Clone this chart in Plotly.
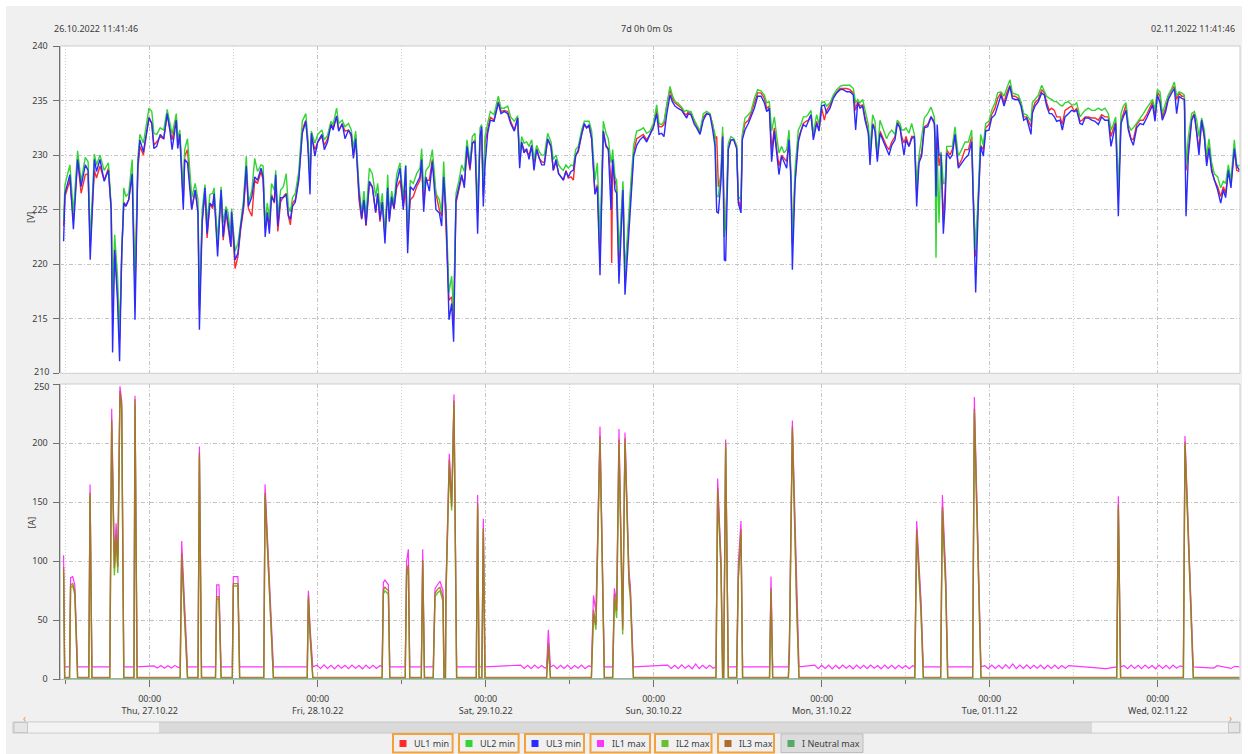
import pandas as pd
import plotly.graph_objects as go

# ---------------- DATA ----------------
# time in hours since 26.10.2022 00:00
t_U = [11.7, 11.9, 12.6, 13.1, 13.7, 14.2, 14.8, 15.2, 15.5, 16.1, 16.4, 16.9, 17.5, 18.1, 18.5, 18.7, 19.0, 19.4, 19.7, 20.0,
       20.3, 20.6, 21.0, 21.5, 21.9, 22.3, 22.6, 23.1, 23.9, 24.3, 24.6, 25.0, 25.5, 26.0, 26.5, 26.9, 27.2, 27.8, 28.0, 28.3,
       28.8, 29.0, 29.4, 29.8, 30.0, 30.5, 30.9, 31.1, 31.5, 31.9, 32.2, 32.6, 33.0, 33.2, 33.7, 34.2, 34.5, 34.9, 35.2, 35.6,
       35.7, 36.2, 36.6, 37.0, 37.4, 37.8, 38.1, 38.6, 39.0, 39.4, 39.9, 40.2, 40.5, 40.8, 41.1, 41.4, 41.8, 42.0, 42.3, 42.7,
       43.1, 43.5, 43.8, 44.1, 44.4, 44.8, 45.3, 45.8, 46.3, 46.6, 46.9, 47.1, 47.6, 48.0, 48.6, 48.95, 49.4, 49.9, 50.2, 50.7,
       51.0, 51.5, 51.9, 52.4, 52.8, 53.1,
       53.42, 53.9, 54.28, 54.61, 54.9, 55.38, 55.8, 56.28, 56.57, 56.9, 57.23, 57.61, 58.0, 58.23, 58.57, 58.9, 59.28, 59.76,
       60.23, 60.57, 60.85, 61.23, 61.66, 62.14, 62.61, 62.85, 63.14, 63.47, 63.95, 64.38, 64.66, 64.9, 65.38, 65.71, 66.0,
       66.33, 66.76, 67.14, 67.42, 67.76, 68.19, 68.57, 68.95, 69.33, 69.76, 70.09, 70.47, 70.85, 71.19, 71.42, 71.66, 71.9,
       72.28, 72.66, 73.19, 73.57, 73.8, 74.19, 74.66, 75.14, 75.57, 76.09, 76.57, 76.85, 77.14, 77.47, 77.85, 78.19, 78.57,
       78.9, 79.28, 79.66, 80.0, 80.38, 80.85, 81.33, 81.66, 82.04, 82.42, 82.76, 83.09, 83.47, 83.8, 84.19, 84.52, 84.85,
       85.23, 85.71, 86.09, 86.42, 86.76, 87.14, 87.61, 87.95, 88.33, 88.8, 89.19, 89.52, 89.9, 90.0, 90.14, 90.47, 90.71,
       91.04, 91.33, 91.61, 91.9, 92.28, 92.76, 93.14, 93.57, 94.04, 94.52,
       95.0, 95.47, 95.95, 96.43, 96.76, 97.14, 97.47, 97.85, 98.33, 98.66, 99.04, 99.43, 100.0, 100.38, 100.71, 100.95,
       101.33, 101.81, 102.14, 102.62, 103.09, 103.57, 104.04, 104.43, 104.76, 105.0, 105.24, 105.62, 105.85, 106.09, 106.28,
       106.66, 107.04, 107.43, 107.85, 108.09, 108.47, 108.66, 109.04, 109.52, 109.9, 110.38, 110.85, 111.33, 111.81, 112.14,
       112.52, 112.85, 113.24, 113.57, 113.9, 114.28, 114.62, 115.0, 115.33, 115.62, 115.81, 116.19, 116.66, 117.04, 117.38,
       117.76, 118.09, 118.47, 118.81, 119.28, 119.62, 120.0, 120.38, 120.71, 121.19, 121.66, 122.14, 122.62, 123.09, 123.57,
       124.04, 124.52, 124.85, 125.14, 125.47, 125.85, 126.19, 126.66, 126.9, 127.28, 127.62, 127.95, 128.33, 128.81, 129.28,
       129.62, 130.0, 130.47, 130.81, 131.19, 131.43, 131.76, 132.04, 132.47, 132.85, 133.24, 133.57, 133.9, 134.28, 134.66,
       135.14, 135.62, 136.09,
       136.19, 136.33, 136.5, 136.76, 137.05, 137.38, 137.62, 137.86, 138.33, 138.66, 139.05, 139.52, 140.0, 140.47, 140.95,
       141.43, 141.66, 142.0, 142.38, 142.71, 143.09, 143.43, 143.9, 144.28, 144.76, 145.14, 145.62, 146.05, 146.43, 146.9,
       147.24, 147.62, 148.09, 148.47, 148.86, 149.28, 149.9, 150.09, 150.47, 150.95, 151.43, 151.81, 152.14, 152.52, 152.86,
       153.24, 153.57, 154.05, 154.38, 154.76, 155.24, 155.71, 156.09, 156.43, 156.9, 157.24, 157.62, 158.09, 158.57, 159.05,
       159.52, 160.0, 160.47, 160.95, 161.33, 161.66, 162.0, 162.38, 162.76, 163.09, 163.47, 163.81, 164.19, 164.52, 165.0,
       165.47, 165.95, 166.43, 166.9, 167.28, 167.62, 167.95, 168.33, 168.66, 169.14, 169.52, 170.0, 170.38, 170.71, 171.05,
       171.43, 171.81, 172.05, 172.38, 172.86, 173.24, 173.57, 173.9, 174.28, 174.66, 175.0, 175.33, 175.71, 176.09, 176.57,
       177.0, 177.38, 177.71, 178.09, 178.47, 178.95, 179.28, 179.7]

UL3_min = [222.1, 226.5, 228.2, 223.2, 229.6, 227.1, 229.1, 228.6, 220.4, 229.6, 228.5, 229.6, 227.6, 228.6, 225.0, 211.9, 221.3, 216.7, 211.1, 221.0,
           225.6, 225.3, 225.9, 228.3, 214.9, 229.0, 231.4, 230.3, 233.4, 232.9, 230.6, 230.8, 231.9, 231.5, 233.8, 232.2, 230.5, 233.2, 230.6, 231.9,
           225.0, 229.6, 229.3, 226.8, 225.0, 226.8, 224.7, 214.0, 223.8, 227.0, 222.8, 225.6, 225.3, 226.5, 220.7, 226.8, 222.5, 225.0, 223.8, 221.6,
           224.8, 220.4, 221.0, 223.5, 225.3, 229.0, 225.3, 226.2, 228.0, 227.7, 228.8, 228.0, 222.5, 224.7, 222.8, 226.2, 225.7, 228.2, 223.5, 226.1,
           226.1, 226.4, 224.5, 224.1, 225.3, 225.7, 227.7, 232.0, 233.1, 230.8, 226.4, 232.0, 229.9, 231.2, 231.9, 230.5, 231.2, 232.8, 232.3, 233.6,
           232.2, 232.9, 231.5, 232.3, 231.9, 229.7,
           231.5, 226.5, 224.2, 225.9, 223.6, 227.6, 227.1, 224.8, 226.5, 224.1, 225.7, 221.9, 227.0, 223.9, 226.2, 225.1, 227.4, 228.8,
           225.0, 229.0, 221.0, 227.1, 226.8, 227.4, 228.0, 229.6, 224.8, 228.0, 226.7, 229.4, 227.1, 225.0, 224.7, 223.5, 228.0,
           224.8, 214.9, 216.4, 212.9, 225.9, 227.1, 228.2, 227.0, 230.8, 228.8, 231.1, 231.2, 222.8, 231.7, 232.6, 225.3, 229.0,
           232.0, 233.2, 233.1, 234.1, 234.8, 233.8, 234.0, 233.8, 232.9, 232.2, 233.4, 228.8, 231.2, 230.2, 230.6, 229.6, 230.9,
           228.6, 230.5, 229.7, 229.1, 229.1, 231.5, 230.8, 228.6, 229.6, 228.3, 228.0, 227.7, 228.5, 228.0, 228.5, 228.6, 229.9,
           230.5, 231.9, 232.9, 232.5, 232.8, 231.5, 226.4, 227.1, 219.0, 232.2, 230.8, 230.5, 225.0, 227.7, 229.6, 226.8, 226.5,
           218.2, 222.2, 226.8, 217.2, 221.0, 226.2, 229.9, 230.9, 231.4, 231.7,
           231.2, 231.9, 232.5, 233.8, 231.9, 232.0, 231.7, 233.7, 235.5, 234.9, 234.5, 234.3, 234.1, 233.7, 233.4, 233.8,
           233.7, 232.8, 232.5, 231.9, 233.2, 233.8, 233.7, 232.3, 230.8, 224.8, 224.7, 227.7, 231.7, 220.4, 220.3,
           230.5, 231.4, 231.4, 230.6, 225.6, 224.7, 231.4, 232.3, 232.9, 233.5, 234.3, 235.4, 235.4, 234.8, 234.0,
           234.3, 229.4, 232.2, 230.2, 228.2, 229.9, 229.3, 228.8, 231.4, 227.4, 219.5, 227.4, 231.2, 232.2, 232.8,
           232.6, 233.1, 233.7, 231.4, 232.9, 232.2, 234.5, 234.6, 233.8, 234.3, 235.2, 235.7, 236.0, 236.0, 235.8,
           235.8, 235.5, 232.3, 234.8, 234.3, 234.5, 233.2, 232.0, 229.1, 232.8, 232.2, 229.4, 232.0, 231.2, 230.6,
           230.0, 230.9, 231.4, 232.9, 232.5, 231.4, 230.0, 231.4, 230.8, 231.5, 231.7, 225.3, 229.3, 229.9, 232.5,
           232.6, 233.5, 232.9,
           231.1, 226.2, 232.8, 230.0, 230.0, 222.8, 225.3, 230.2, 229.7, 230.0, 231.9, 228.8, 229.3, 229.7, 230.0,
           231.2, 225.6, 217.4, 225.6, 230.8, 229.9, 232.2, 232.3, 233.4, 233.7, 234.6, 235.5, 234.5, 235.4, 236.3,
           235.2, 235.1, 235.1, 234.5, 233.2, 233.4, 231.9, 233.8, 234.5, 234.9, 235.7, 235.5, 234.5, 233.8, 233.8,
           233.5, 233.1, 233.2, 232.3, 233.5, 233.8, 234.1, 234.0, 234.1, 232.9, 232.8, 233.4, 233.4, 233.2, 233.1,
           232.8, 233.5, 233.2, 233.2, 230.8, 232.0, 232.9, 224.4, 232.9, 233.5, 234.1, 232.3, 231.4, 230.9, 232.5,
           232.9, 232.8, 233.4, 234.0, 234.6, 233.1, 235.5, 234.8, 233.2, 234.0, 235.1, 235.7, 236.1, 233.8, 235.4,
           235.2, 235.1, 224.4, 229.9, 233.2, 233.7, 232.0, 230.0, 233.2, 231.7, 229.0, 230.6, 228.5, 227.7, 226.8,
           225.6, 226.8, 226.1, 228.6, 227.0, 230.6, 229.0, 228.6]

UL1_min = [223.5, 226.2, 227.7, 224.1, 229.6, 226.5, 228.2, 228.3, 221.6, 228.6, 227.9, 229.0, 227.7, 228.8, 225.0, 215.5, 221.6, 217.4, 213.1, 221.0,
           225.7, 225.4, 225.9, 228.2, 217.4, 228.6, 230.8, 230.0, 233.5, 232.9, 230.9, 231.2, 231.7, 231.5, 233.7, 232.3, 231.4, 233.4, 231.1, 231.9,
           225.6, 229.9, 230.5, 227.1, 225.1, 226.8, 224.8, 215.8, 224.1, 226.5, 222.4, 225.6, 225.1, 226.4, 221.6, 226.7, 222.2, 224.7, 223.5, 221.6,
           224.7, 219.6, 220.7, 223.2, 225.0, 228.5, 225.1, 224.4, 227.7, 227.4, 228.5, 227.7, 223.3, 224.8, 223.5, 226.4, 225.6, 227.7, 223.0, 225.7,
           226.2, 226.5, 224.4, 223.6, 225.6, 225.9, 228.0, 232.3, 233.2, 231.1, 227.7, 231.7, 230.5, 231.2, 231.7, 230.9, 231.5, 232.9, 232.5, 233.5,
           232.3, 232.8, 232.2, 232.3, 231.7, 230.0,
           231.9, 225.9, 224.1, 225.7, 223.5, 227.4, 227.1, 224.7, 226.4, 223.9, 225.7, 222.8, 226.8, 224.1, 225.9, 225.1, 227.0, 227.7,
           225.3, 226.8, 222.8, 225.9, 226.2, 227.1, 227.7, 229.4, 225.6, 227.7, 227.7, 229.6, 227.7, 226.4, 225.0, 224.4, 228.3,
           222.8, 216.7, 217.0, 214.9, 225.6, 226.8, 228.0, 227.4, 230.5, 228.6, 231.1, 231.4, 224.7, 231.5, 232.3, 226.2, 231.1,
           232.3, 233.5, 233.2, 234.3, 234.9, 234.0, 234.1, 234.0, 233.1, 232.3, 233.4, 229.6, 231.1, 230.5, 230.3, 230.0, 230.9,
           229.3, 230.6, 229.7, 229.4, 229.3, 231.4, 230.8, 228.6, 229.4, 228.3, 228.0, 227.7, 228.6, 227.9, 228.0, 227.7, 230.0,
           230.3, 231.9, 232.8, 232.5, 232.6, 231.5, 226.5, 227.3, 220.4, 232.2, 230.9, 230.6, 227.7, 220.1, 229.6, 227.7, 227.1,
           219.8, 223.5, 227.1, 218.6, 222.5, 226.8, 230.3, 231.5, 231.7, 231.9,
           231.4, 231.9, 232.6, 234.1, 232.6, 232.6, 232.8, 234.5, 236.0, 235.2, 234.8, 234.6, 234.3, 233.8, 233.7, 234.0,
           233.8, 233.1, 232.6, 232.0, 233.5, 233.8, 233.7, 232.8, 231.5, 231.7, 227.1, 228.0, 232.0, 223.5, 223.2,
           230.8, 231.4, 231.4, 230.8, 225.9, 225.1, 231.7, 232.9, 233.2, 233.8, 234.8, 235.7, 235.7, 235.2, 234.3,
           234.5, 230.5, 232.5, 230.6, 229.0, 230.0, 229.7, 229.4, 231.5, 228.0, 221.9, 227.7, 231.5, 232.3, 232.9,
           233.1, 233.2, 233.7, 231.7, 233.1, 232.3, 234.3, 233.2, 234.1, 234.6, 235.4, 235.8, 236.1, 236.1, 236.1,
           236.0, 235.7, 234.1, 234.9, 234.5, 234.6, 233.5, 232.2, 229.9, 232.9, 232.5, 229.7, 232.2, 231.5, 230.8,
           230.5, 231.2, 231.7, 233.1, 232.5, 231.7, 231.1, 231.7, 230.8, 231.7, 231.7, 226.5, 229.6, 230.2, 232.6,
           232.8, 233.5, 233.1,
           231.7, 228.0, 231.7, 229.0, 230.2, 224.1, 226.5, 230.5, 230.0, 230.5, 231.9, 229.0, 229.6, 230.5, 230.5,
           231.7, 226.2, 220.7, 225.9, 230.9, 230.5, 232.5, 232.8, 233.7, 234.3, 235.2, 235.7, 234.8, 235.7, 236.4,
           235.4, 235.4, 235.2, 234.8, 233.5, 233.5, 232.6, 234.1, 234.8, 235.1, 236.0, 235.7, 234.8, 234.1, 234.3,
           234.1, 233.5, 233.5, 232.8, 234.1, 234.3, 234.5, 234.0, 234.3, 233.1, 233.2, 233.5, 233.5, 233.4, 233.4,
           233.2, 233.7, 233.5, 233.5, 231.7, 232.5, 233.1, 226.4, 233.2, 233.8, 234.6, 232.5, 231.5, 231.4, 232.8,
           233.2, 233.2, 233.7, 234.3, 234.9, 233.5, 235.8, 235.4, 233.5, 234.3, 235.4, 236.0, 236.3, 235.1, 235.7,
           235.4, 235.4, 228.6, 230.8, 233.4, 233.8, 232.3, 230.5, 233.1, 231.7, 229.3, 230.8, 228.8, 227.7, 227.1,
           226.2, 227.1, 226.5, 228.6, 227.4, 230.5, 228.6, 228.5]

UL2_min = [224.1, 227.3, 229.1, 224.7, 230.4, 227.6, 229.8, 229.4, 222.2, 230.1, 229.1, 230.0, 228.6, 229.3, 225.3, 217.0, 222.7, 218.9, 213.7, 221.6,
           227.0, 226.2, 226.5, 229.6, 218.0, 229.6, 231.9, 231.1, 234.3, 234.0, 232.0, 231.9, 232.5, 232.3, 234.2, 232.9, 231.9, 233.8, 231.5, 232.3,
           226.5, 230.5, 231.5, 228.0, 226.1, 227.4, 225.9, 216.1, 225.0, 227.3, 223.8, 226.4, 226.5, 227.0, 222.2, 227.1, 223.8, 225.3, 224.7, 222.5,
           225.1, 221.2, 221.9, 223.8, 225.9, 229.9, 225.6, 226.8, 229.7, 228.5, 229.1, 229.0, 223.8, 225.6, 224.1, 227.4, 226.8, 228.6, 224.4, 226.8,
           227.1, 228.3, 225.3, 224.8, 226.1, 226.5, 228.5, 233.1, 233.8, 231.5, 228.0, 232.2, 231.1, 231.9, 232.3, 231.4, 231.8, 233.1, 232.8, 234.3,
           232.9, 233.2, 232.6, 232.9, 232.3, 230.6,
           232.2, 227.1, 224.7, 226.7, 224.4, 228.8, 228.3, 226.2, 227.4, 225.0, 226.5, 222.5, 228.2, 224.7, 226.7, 225.6, 228.2, 229.3,
           225.9, 229.1, 222.8, 227.7, 227.4, 228.3, 228.8, 230.6, 226.8, 228.6, 229.0, 230.5, 228.3, 226.5, 225.9, 224.7, 229.4,
           225.1, 217.4, 218.9, 215.5, 226.5, 227.7, 229.1, 228.5, 231.4, 229.3, 231.7, 232.0, 225.0, 232.5, 232.8, 226.8, 231.7,
           232.9, 234.0, 233.7, 234.9, 235.4, 234.3, 234.3, 234.5, 233.5, 233.1, 233.6, 229.9, 231.7, 231.1, 231.2, 230.8, 231.4,
           229.6, 230.9, 230.3, 230.0, 230.0, 232.0, 231.2, 229.6, 230.0, 229.1, 228.8, 228.6, 229.1, 228.8, 229.1, 229.0, 230.5,
           230.8, 232.3, 233.1, 233.1, 233.1, 232.2, 227.7, 229.3, 222.2, 233.1, 232.0, 231.5, 229.3, 229.6, 230.5, 228.0, 227.7,
           221.0, 224.7, 227.6, 219.2, 223.2, 227.7, 230.9, 232.2, 232.3, 232.5,
           232.0, 232.2, 232.9, 234.6, 232.9, 232.8, 233.1, 234.6, 236.3, 235.5, 234.9, 234.8, 234.4, 234.0, 234.1, 234.0,
           234.0, 233.2, 232.8, 232.2, 233.8, 234.0, 233.8, 232.9, 231.9, 226.2, 226.2, 228.6, 232.6, 222.5, 223.8,
           231.1, 231.7, 231.5, 230.9, 226.2, 225.9, 231.9, 233.4, 233.7, 234.0, 235.2, 236.0, 235.9, 235.5, 234.8,
           234.9, 232.2, 233.5, 231.7, 230.2, 230.8, 230.2, 230.5, 232.3, 228.3, 221.9, 228.6, 232.3, 232.8, 233.5,
           233.5, 233.7, 234.1, 232.0, 233.7, 232.8, 234.8, 234.9, 234.5, 234.8, 235.5, 236.0, 236.3, 236.4, 236.4,
           236.4, 236.1, 234.8, 235.1, 234.8, 235.1, 234.1, 232.8, 230.5, 233.7, 233.1, 230.0, 233.2, 232.3, 231.5,
           232.0, 232.3, 231.9, 233.2, 232.9, 232.3, 232.3, 232.5, 232.0, 232.9, 231.9, 227.1, 229.9, 231.7, 233.4,
           233.8, 234.4, 233.5,
           231.7, 220.6, 230.5, 223.8, 230.3, 227.4, 227.4, 230.8, 230.8, 230.8, 232.6, 229.9, 230.5, 231.2, 231.2,
           232.3, 226.2, 221.3, 226.8, 231.9, 230.9, 232.9, 233.1, 234.1, 234.8, 235.7, 235.8, 235.4, 236.1, 236.9,
           235.7, 235.6, 235.5, 234.9, 233.8, 233.7, 233.1, 234.8, 235.1, 235.5, 236.4, 235.8, 235.4, 235.2, 235.1,
           234.9, 234.9, 234.6, 234.5, 234.8, 234.9, 234.6, 234.6, 234.8, 233.5, 233.8, 234.1, 234.3, 234.1, 234.1,
           234.3, 234.1, 234.3, 233.8, 232.3, 232.8, 233.5, 226.8, 233.8, 234.5, 234.8, 232.8, 232.3, 232.5, 232.9,
           233.4, 233.8, 234.3, 234.8, 235.1, 234.1, 236.0, 235.8, 233.8, 234.8, 235.5, 236.1, 236.7, 235.4, 235.8,
           235.7, 235.5, 229.0, 231.7, 233.8, 234.0, 233.2, 231.7, 233.4, 232.3, 229.9, 231.5, 229.3, 228.3, 228.0,
           227.0, 227.6, 227.4, 229.1, 227.7, 231.4, 229.1, 229.0]

t_I = [11.7, 11.85, 12.55, 12.7, 13.0, 13.3, 13.7, 15.3, 15.48, 15.75, 18.3, 18.57, 18.95, 19.2, 19.45, 19.75, 20.0, 20.3,
       21.75, 21.9, 22.2, 28.35, 28.57, 28.95, 29.4, 30.9, 31.1, 31.4, 33.4, 33.57, 33.9, 34.2, 35.8, 35.95, 36.6, 36.85,
       40.3, 40.48, 41.2, 41.67, 46.5, 46.67, 46.9, 47.3, 57.2, 57.38, 57.6, 58.1, 58.3, 60.5, 60.7, 60.95, 61.15, 62.8, 63.0,
       63.25, 64.5, 64.76, 65.1, 65.47, 65.9, 66.04, 66.25, 66.33, 66.8, 67.14, 67.47, 67.85, 70.65, 70.85, 71.05, 71.45,
       71.66, 71.9, 80.7, 80.95, 81.25, 87.1, 87.4, 87.75, 88.33, 88.95, 90.14, 90.38, 90.71, 91.04, 91.57, 91.9, 92.47,
       92.66, 93.1, 104.9, 105.14, 105.62, 105.85, 106.0, 106.28, 106.66, 107.85, 108.09, 108.47, 108.7, 112.55, 112.76,
       113.0, 115.24, 115.38, 115.81, 116.43, 116.76, 133.3, 133.57, 134.19, 134.52, 137.0, 137.24, 137.71, 138.0, 141.57,
       141.81, 142.76, 162.15, 162.38, 162.7, 171.67, 171.9, 173.09, 179.7]

IL1_max = [105, 10.5, 10.5, 86, 87, 80, 10.5, 10.5, 165, 10.5, 10.5, 229, 100, 132, 105, 248, 236, 10.5,
           10.5, 240, 10.5, 10.5, 117, 70, 10.5, 10.5, 197, 10.5, 10.5, 80, 80, 10.5, 10.5, 87, 87, 10.5,
           10.5, 165, 70, 10.5, 10.5, 75, 45, 10.5, 10.5, 82, 84, 80, 10.5, 10.5, 100, 110, 10.5, 10.5, 110,
           10.5, 10.5, 77, 80, 83, 75, 10.5, 10.5, 80, 191, 150, 241, 10.5, 10.5, 156, 10.5, 10.5,
           136, 10.5, 10.5, 42, 10.5, 10.5, 71, 57, 214, 10.5, 10.5, 77, 65, 212, 45, 209, 91,
           80, 10.5, 10.5, 170, 101, 10.5, 10.5, 203, 10.5, 10.5, 98, 134, 10.5, 10.5, 87,
           10.5, 10.5, 30, 219, 70, 10.5, 10.5, 134, 67, 10.5, 10.5, 156, 91, 10.5, 10.5,
           239, 10.5, 10.5, 155, 10.5, 10.5, 206, 10.5, 10.5]

# IL1 idle-level readings between the peaks (the ripple of the magenta line)
t_IL1_idle = [24.6, 25.1, 25.6, 26.1, 26.6, 27.1, 27.6, 28.1,
              47.9, 48.4, 48.9, 49.4, 49.9, 50.4, 50.9, 51.4, 51.9, 52.4, 52.9, 53.4, 53.9, 54.4, 54.9, 55.4, 55.9, 56.4, 56.9,
              77.0, 77.5, 78.0, 78.5, 79.0, 79.5, 80.0, 80.5,
              81.7, 82.2, 82.7, 83.2, 83.7, 84.2, 84.7, 85.2, 85.7, 86.2, 86.7,
              98.0, 98.5, 99.0, 99.5, 100.0, 100.5, 101.0, 101.5, 102.0, 102.5, 103.0, 103.5, 104.0, 104.5,
              119.0, 119.5, 120.0, 120.5, 121.0, 121.5, 122.0, 122.5, 123.0, 123.5, 124.0, 124.5, 125.0, 125.5, 126.0, 126.5,
              127.0, 127.5, 128.0, 128.5, 129.0, 129.5, 130.0, 130.5, 131.0, 131.5, 132.0, 132.5, 133.0,
              143.3, 143.8, 144.3, 144.8, 145.3, 145.8, 146.3, 146.8, 147.3, 147.8, 148.3, 148.8, 149.3, 149.8, 150.3, 150.8,
              151.3, 151.8, 152.3, 152.8, 153.3, 153.8, 154.3, 154.8, 155.3, 160.6,
              163.2, 163.7, 164.2, 164.7, 165.2, 165.7, 166.2, 166.7, 167.2, 167.7, 168.2, 168.7, 169.2, 169.7, 170.2, 170.7, 171.2,
              176.0, 176.5, 178.5, 179.0]
IL1_idle = [11.3, 9.5, 11.6, 9.3, 11.5, 9.6, 11.8, 10.0,
            12.0, 9.0, 12.2, 9.2, 11.8, 8.8, 12.0, 9.3, 11.9, 9.0, 12.1, 9.4, 11.7, 8.9, 12.0, 9.2, 11.8, 9.1, 11.6,
            12.0, 9.2, 11.8, 9.0, 12.0, 9.3, 11.7, 9.4,
            12.0, 9.0, 11.8, 9.2, 12.1, 8.9, 11.7, 9.3, 12.0, 9.0, 11.5,
            12.0, 9.2, 11.8, 9.0, 12.2, 9.3, 11.7, 8.9, 13.0, 9.1, 11.8, 9.2, 11.9, 9.4,
            12.0, 9.0, 11.8, 9.2, 12.1, 8.8, 11.9, 9.1, 12.0, 9.3, 11.7, 8.9, 12.0, 9.2, 11.8, 9.0,
            12.1, 9.3, 11.7, 8.9, 12.0, 9.2, 11.8, 9.0, 11.9, 9.3, 11.7, 9.0, 11.4,
            11.5, 9.0, 12.0, 9.2, 11.8, 9.0, 12.4, 9.3, 13.0, 9.1, 12.0, 9.2, 12.3, 9.0, 11.9, 9.3,
            12.1, 8.9, 11.8, 9.2, 12.0, 9.0, 11.7, 9.3, 11.6, 9.0,
            11.5, 9.0, 12.0, 9.2, 11.8, 9.0, 12.1, 9.3, 11.7, 8.9, 12.0, 9.2, 11.8, 9.0, 12.1, 9.3, 11.4,
            9.5, 11.5, 9.2, 11.0]

IL2_max = [90, 1.0, 1.0, 78, 79, 72, 1.0, 1.0, 155, 1.0, 1.0, 215, 88, 118, 90, 240, 228, 1.0,
           1.0, 232, 1.0, 1.0, 103, 60, 1.0, 1.0, 188, 1.0, 1.0, 68, 68, 1.0, 1.0, 79, 79, 1.0,
           1.0, 155, 60, 1.0, 1.0, 68, 38, 1.0, 1.0, 72, 75, 72, 1.0, 1.0, 88, 95, 1.0, 1.0, 98,
           1.0, 1.0, 70, 73, 75, 66, 1.0, 1.0, 72, 180, 143, 232, 1.0, 1.0, 145, 1.0, 1.0,
           125, 1.0, 1.0, 28, 1.0, 1.0, 55, 42, 202, 1.0, 1.0, 68, 52, 198, 38, 200, 80,
           70, 1.0, 1.0, 158, 92, 1.0, 1.0, 196, 1.0, 1.0, 84, 123, 1.0, 1.0, 74,
           1.0, 1.0, 20, 210, 60, 1.0, 1.0, 123, 55, 1.0, 1.0, 143, 78, 1.0, 1.0,
           225, 1.0, 1.0, 144, 1.0, 1.0, 198, 1.0, 1.0]

IL3_max = [95, 1.5, 1.5, 80, 81, 75, 1.5, 1.5, 158, 1.5, 1.5, 220, 94, 122, 95, 244, 232, 1.5,
           1.5, 237, 1.5, 1.5, 107, 64, 1.5, 1.5, 192, 1.5, 1.5, 70, 70, 1.5, 1.5, 81, 81, 1.5,
           1.5, 158, 64, 1.5, 1.5, 71, 40, 1.5, 1.5, 76, 78, 75, 1.5, 1.5, 92, 97, 1.5, 1.5, 101,
           1.5, 1.5, 73, 76, 78, 70, 1.5, 1.5, 76, 186, 146, 236, 1.5, 1.5, 149, 1.5, 1.5,
           128, 1.5, 1.5, 31, 1.5, 1.5, 59, 46, 206, 1.5, 1.5, 72, 58, 203, 42, 204, 85,
           75, 1.5, 1.5, 162, 96, 1.5, 1.5, 200, 1.5, 1.5, 87, 127, 1.5, 1.5, 77,
           1.5, 1.5, 22, 214, 64, 1.5, 1.5, 127, 59, 1.5, 1.5, 146, 82, 1.5, 1.5,
           229, 1.5, 1.5, 148, 1.5, 1.5, 201, 1.5, 1.5]

t_N = [11.7, 179.7]
IN_max = [0.5, 0.5]

day_labels = ["Thu, 27.10.22", "Fri, 28.10.22", "Sat, 29.10.22", "Sun, 30.10.22",
              "Mon, 31.10.22", "Tue, 01.11.22", "Wed, 02.11.22"]
v_ticks = [210, 215, 220, 225, 230, 235, 240]
a_ticks = [0, 50, 100, 150, 200, 250]
legend_names = ["UL1 min", "UL2 min", "UL3 min", "IL1 max", "IL2 max", "IL3 max", "I Neutral max"]
header_left = "26.10.2022 11:41:46"
header_mid = "7d 0h 0m 0s"
header_right = "02.11.2022 11:41:46"

# ---------------- FIGURE ----------------
W, H = 1248, 754
base = pd.Timestamp("2022-10-26 00:00:00")


def to_dt(hours):
    return [base + pd.Timedelta(hours=h) for h in hours]


def px(x):
    return x / W


def py(y):
    return 1 - y / H


FONT = "Noto Sans"
TXT = "#3c3c3c"
GRID = "#c4c4c4"
DASHDOT = "4px,2px,1px,2px"

colors = {"UL1 min": "#ff2b2b", "UL2 min": "#33d433", "UL3 min": "#2b2bff",
          "IL1 max": "#ff33ff", "IL2 max": "#6cbf2c", "IL3 max": "#b06a2c", "I Neutral max": "#55aa66"}

fig = go.Figure()
xU = to_dt(t_U)
for name, vals in [("UL1 min", UL1_min), ("UL2 min", UL2_min), ("UL3 min", UL3_min)]:
    fig.add_trace(go.Scatter(x=xU, y=vals, mode="lines", name=name, xaxis="x2", yaxis="y2",
                             line=dict(color=colors[name], width=1.4), showlegend=False))

il1_pts = sorted(list(zip(t_I, IL1_max)) + list(zip(t_IL1_idle, IL1_idle)))
fig.add_trace(go.Scatter(x=to_dt([p[0] for p in il1_pts]), y=[p[1] for p in il1_pts], mode="lines", name="IL1 max",
                         line=dict(color=colors["IL1 max"], width=1.2), showlegend=False))
xI = to_dt(t_I)
fig.add_trace(go.Scatter(x=xI, y=IL2_max, mode="lines", name="IL2 max", line=dict(color=colors["IL2 max"], width=1.4), showlegend=False))
fig.add_trace(go.Scatter(x=xI, y=IL3_max, mode="lines", name="IL3 max", opacity=0.85, line=dict(color=colors["IL3 max"], width=1.4), showlegend=False))
fig.add_trace(go.Scatter(x=to_dt(t_N), y=IN_max, mode="lines", name="I Neutral max", line=dict(color=colors["I Neutral max"], width=1), showlegend=False))

x0p, x1p = 59.5, 1240
xr = [base + pd.Timedelta(hours=11.114), base + pd.Timedelta(hours=179.76)]
major = [pd.Timestamp("2022-10-27") + pd.Timedelta(days=i) for i in range(len(day_labels))]
minor = [pd.Timestamp("2022-10-26 12:00") + pd.Timedelta(days=i) for i in range(7)]
ticktext = ["00:00<br>" + d for d in day_labels]

tickfont = dict(family=FONT, size=9, color=TXT)
common_x = dict(domain=[px(x0p), px(x1p)], range=xr, type="date", tickmode="array", tickvals=major, automargin=False,
                showgrid=True, gridcolor=GRID, griddash=DASHDOT, gridwidth=1, zeroline=False)

# 210 (top panel) and 250 (bottom panel) sit next to each other: drawn as separate texts below
v_text = ["" if v == v_ticks[0] else str(v) for v in v_ticks]
a_text = ["" if a == a_ticks[-1] else str(a) for a in a_ticks]

fig.update_layout(
    width=W, height=H, margin=dict(l=0, r=0, t=0, b=0, autoexpand=False),
    paper_bgcolor="#f0f0f0", plot_bgcolor="white",
    xaxis=dict(**common_x, anchor="y", ticktext=ticktext, ticks="outside", ticklen=7, tickcolor="#707070",
               showline=True, linecolor="#707070", tickfont=tickfont, ticklabelstandoff=4,
               minor=dict(tickmode="array", tickvals=minor, ticks="outside", ticklen=4, tickcolor="#707070",
                          showgrid=True, gridcolor="#cfcfcf", griddash="1px,2px")),
    xaxis2=dict(**common_x, anchor="y2", matches="x", showticklabels=False, ticks="", showline=False,
                minor=dict(tickmode="array", tickvals=minor, ticks="", showgrid=True, gridcolor="#cfcfcf", griddash="1px,2px")),
    yaxis=dict(domain=[py(679.3), py(384)], range=[0, 250], tickmode="array", tickvals=a_ticks, ticktext=a_text, anchor="x",
               ticks="outside", ticklen=6, tickcolor="#707070", showline=True, linecolor="#707070", automargin=False,
               showgrid=True, gridcolor=GRID, griddash=DASHDOT, zeroline=False, tickfont=tickfont, ticklabelstandoff=3),
    yaxis2=dict(domain=[py(373.3), py(46)], range=[210, 240], tickmode="array", tickvals=v_ticks, ticktext=v_text, anchor="x2",
                ticks="outside", ticklen=6, tickcolor="#707070", showline=True, linecolor="#707070", automargin=False,
                showgrid=True, gridcolor=GRID, griddash=DASHDOT, zeroline=False, tickfont=tickfont, ticklabelstandoff=3),
)

shapes = []
annotations = []
# white page margins around the grey panel
for (a, b, c, d) in [(0, 0, W, 6), (0, 0, 6, H), (1242, 0, W, H)]:
    shapes.append(dict(type="rect", xref="paper", yref="paper", x0=px(a), x1=px(c), y0=py(d), y1=py(b),
                       fillcolor="white", line=dict(width=0), layer="below"))
# plot frames
for (ya, yb) in [(46, 373.3), (384, 679.3)]:
    shapes.append(dict(type="rect", xref="paper", yref="paper", x0=px(60.5), x1=px(1240), y0=py(yb), y1=py(ya),
                       line=dict(color="#cdcdcd", width=1), fillcolor="rgba(0,0,0,0)", layer="above"))

# edge tick labels
annotations.append(dict(text=str(v_ticks[0]), x=px(50), y=py(371.5), xref="paper", yref="paper", xanchor="right",
                        yanchor="middle", showarrow=False, borderpad=0, font=dict(family=FONT, size=9, color=TXT)))
annotations.append(dict(text=str(a_ticks[-1]), x=px(50), y=py(386), xref="paper", yref="paper", xanchor="right",
                        yanchor="middle", showarrow=False, borderpad=0, font=dict(family=FONT, size=9, color=TXT)))

# header
annotations.append(dict(text=header_left, x=px(52), y=py(28), xref="paper", yref="paper", xanchor="left", yanchor="middle",
                        showarrow=False, font=dict(family=FONT, size=9, color=TXT)))
annotations.append(dict(text=header_mid, x=px(646), y=py(28), xref="paper", yref="paper", xanchor="center", yanchor="middle",
                        showarrow=False, font=dict(family=FONT, size=9, color=TXT)))
annotations.append(dict(text=header_right, x=px(1237), y=py(28), xref="paper", yref="paper", xanchor="right", yanchor="middle",
                        showarrow=False, font=dict(family=FONT, size=9, color=TXT)))
# axis units
annotations.append(dict(text="[V]", x=px(22), y=py(210), xref="paper", yref="paper", textangle=-90, showarrow=False,
                        font=dict(family=FONT, size=9, color=TXT)))
annotations.append(dict(text="[A]", x=px(22), y=py(531), xref="paper", yref="paper", textangle=-90, showarrow=False,
                        font=dict(family=FONT, size=9, color=TXT)))

# scrollbar
shapes.append(dict(type="rect", xref="paper", yref="paper", x0=px(13), x1=px(1240), y0=py(733), y1=py(722),
                   fillcolor="#dadada", line=dict(color="#c6c6c6", width=1)))
for (a, c) in [(28, 159), (1092, 1228)]:
    shapes.append(dict(type="rect", xref="paper", yref="paper", x0=px(a), x1=px(c), y0=py(732.5), y1=py(722.5),
                       fillcolor="#f3f3f3", line=dict(width=0)))
for (a, c, sym) in [(14, 27.5, "‹"), (1228.5, 1239.5, "›")]:
    shapes.append(dict(type="rect", xref="paper", yref="paper", x0=px(a), x1=px(c), y0=py(732.5), y1=py(722.5),
                       fillcolor="#e6e6e6", line=dict(color="#c6c6c6", width=1)))
    annotations.append(dict(text=sym, x=px((a + c) / 2), y=py(727.3), xref="paper", yref="paper", showarrow=False,
                            font=dict(family=FONT, size=10, color="#e8953a")))

# legend
boxes = [(393, 452.6), (459, 518.6), (525, 584), (590.5, 650), (655, 711.5), (718, 774), (781, 863)]
for name, (a, c) in zip(legend_names, boxes):
    neutral = name == "I Neutral max"
    shapes.append(dict(type="rect", xref="paper", yref="paper", x0=px(a), x1=px(c), y0=py(752.5), y1=py(734),
                       fillcolor="#dcdcdc" if neutral else "#f0f0f0",
                       line=dict(color="#bdbdbd" if neutral else "#f4a13a", width=1 if neutral else 2)))
    shapes.append(dict(type="rect", xref="paper", yref="paper", x0=px(a + 6.5), x1=px(a + 13.5), y0=py(747), y1=py(740),
                       fillcolor=colors[name], line=dict(width=0)))
    annotations.append(dict(text=name, x=px(a + 19), y=py(743.5), xref="paper", yref="paper", xanchor="left",
                            yanchor="middle", showarrow=False, font=dict(family=FONT, size=9, color=TXT)))

fig.update_layout(shapes=shapes, annotations=annotations)
fig.write_html("out.html", config={"displayModeBar": False},
               post_script="document.body.style.margin='0';document.body.style.padding='0';document.body.style.overflow='hidden';")
